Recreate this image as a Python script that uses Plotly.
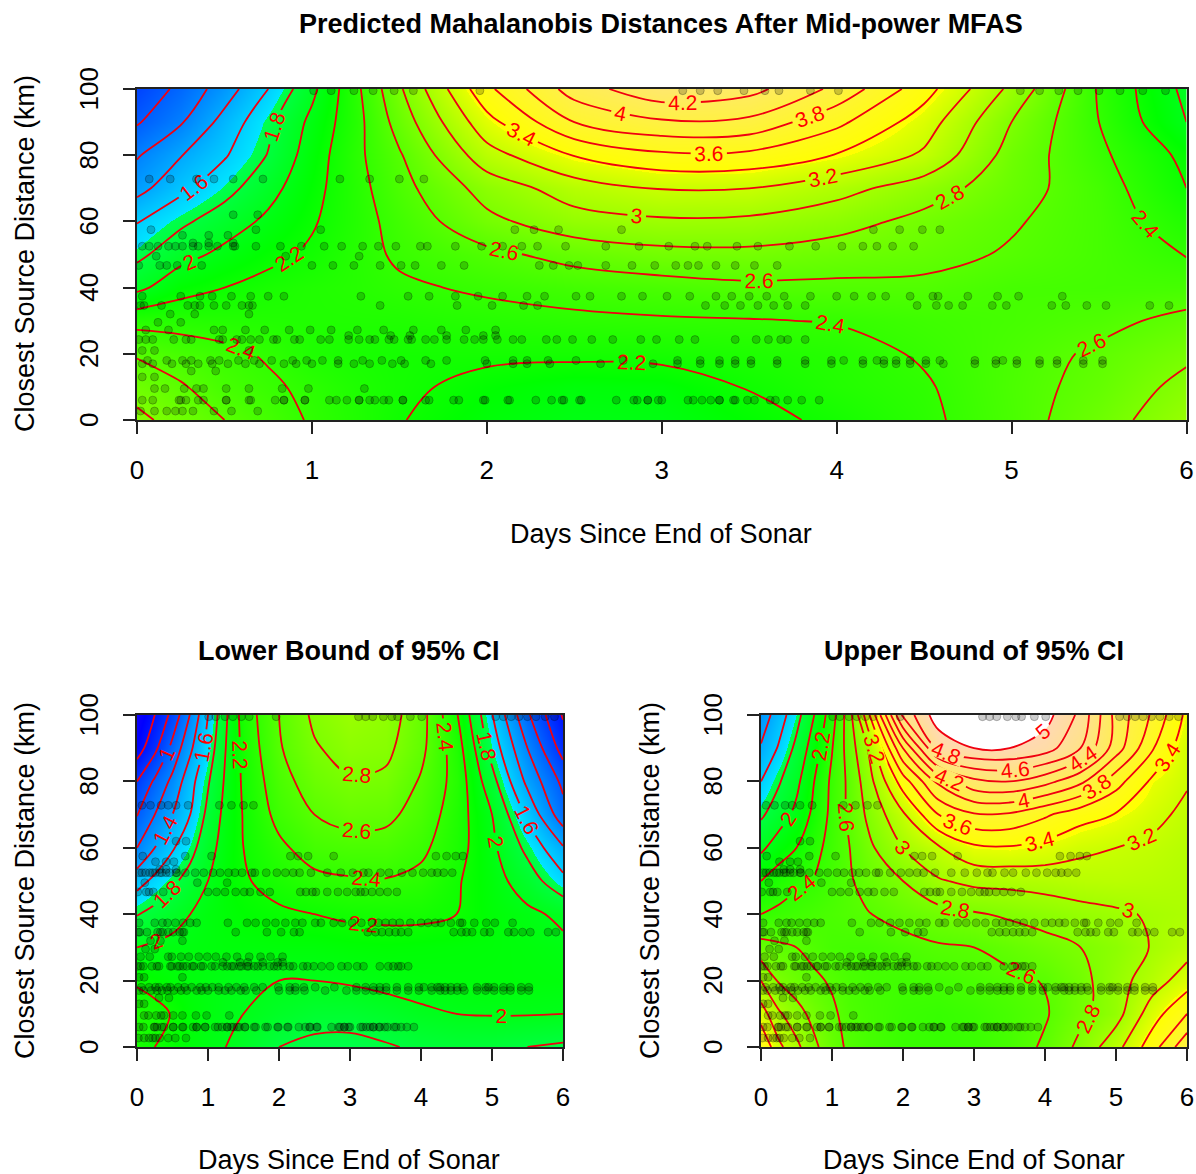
import plotly.graph_objects as go

W, H = 1196, 1174
days = [0, .25, .5, .75, 1, 1.25, 1.5, 2, 2.5, 3, 3.5, 4, 4.5, 5, 5.5, 6]
km = [0, 10, 20, 30, 40, 50, 60, 70, 80, 90, 100]

z_pred = [
 [2.85,2.72,2.60,2.49,2.38,2.30,2.21,2.09,2.03,2.04,2.14,2.24,2.36,2.52,2.71,2.94],
 [2.72,2.62,2.50,2.43,2.36,2.29,2.24,2.14,2.08,2.10,2.21,2.31,2.38,2.53,2.66,2.86],
 [2.58,2.50,2.44,2.38,2.29,2.26,2.24,2.24,2.24,2.25,2.29,2.33,2.42,2.52,2.63,2.76],
 [2.33,2.33,2.32,2.31,2.30,2.30,2.30,2.33,2.36,2.38,2.39,2.41,2.46,2.50,2.55,2.65],
 [1.95,2.13,2.20,2.26,2.30,2.33,2.37,2.43,2.48,2.52,2.56,2.56,2.56,2.50,2.49,2.50],
 [1.75,1.93,2.05,2.15,2.23,2.33,2.43,2.55,2.67,2.74,2.75,2.70,2.66,2.58,2.50,2.39],
 [1.59,1.76,1.90,2.04,2.18,2.32,2.47,2.75,2.92,2.97,2.96,2.88,2.74,2.62,2.50,2.30],
 [1.33,1.55,1.73,1.93,2.14,2.33,2.53,2.88,3.10,3.21,3.20,3.07,2.90,2.68,2.49,2.20],
 [1.18,1.39,1.58,1.81,2.10,2.35,2.58,3.12,3.41,3.56,3.55,3.39,3.17,2.72,2.44,2.15],
 [0.98,1.18,1.47,1.75,2.05,2.33,2.68,3.33,3.80,3.97,3.95,3.65,3.30,2.80,2.40,2.00],
 [0.85,1.05,1.30,1.60,1.95,2.35,2.77,3.55,4.10,4.35,4.27,3.95,3.48,2.95,2.38,1.95],
]
z_low = [
 [2.25,2.20,2.15,2.08,2.03,2.00,1.93,1.80,1.75,1.74,1.78,1.83,1.85,1.84,1.80,1.77],
 [2.28,2.25,2.19,2.11,2.06,2.02,2.00,1.93,1.88,1.88,1.92,1.97,2.00,2.01,2.01,2.00],
 [2.18,2.14,2.10,2.07,2.05,2.03,2.01,2.00,2.00,2.02,2.05,2.07,2.08,2.08,2.08,2.07],
 [2.00,2.03,2.05,2.06,2.07,2.08,2.08,2.09,2.09,2.11,2.12,2.11,2.10,2.09,2.07,2.04],
 [1.79,1.86,1.93,2.00,2.06,2.10,2.13,2.17,2.20,2.23,2.24,2.24,2.20,2.10,2.04,1.96],
 [1.52,1.65,1.76,1.88,2.00,2.11,2.18,2.27,2.35,2.38,2.39,2.35,2.22,2.08,1.90,1.66],
 [1.20,1.40,1.58,1.73,1.93,2.08,2.20,2.36,2.49,2.52,2.52,2.44,2.28,2.04,1.75,1.42],
 [0.99,1.20,1.40,1.60,1.85,2.06,2.21,2.46,2.60,2.67,2.65,2.52,2.30,2.00,1.56,1.08],
 [0.80,1.03,1.25,1.53,1.78,2.03,2.23,2.52,2.70,2.78,2.76,2.58,2.33,1.87,1.35,0.95],
 [0.50,0.75,1.06,1.36,1.68,2.00,2.25,2.58,2.78,2.88,2.85,2.65,2.30,1.72,1.20,0.72],
 [0.40,0.60,0.86,1.21,1.60,1.97,2.28,2.60,2.84,2.95,2.90,2.68,2.22,1.61,1.03,0.58],
]
z_up = [
 [3.60,3.25,3.05,2.84,2.68,2.56,2.50,2.43,2.41,2.43,2.50,2.63,2.85,3.13,3.50,3.95],
 [3.30,3.03,2.87,2.74,2.63,2.54,2.50,2.44,2.42,2.45,2.51,2.58,2.75,2.92,3.30,3.60],
 [3.00,2.78,2.70,2.63,2.58,2.52,2.49,2.47,2.48,2.52,2.56,2.61,2.74,2.92,3.10,3.30],
 [2.67,2.63,2.60,2.55,2.50,2.49,2.49,2.53,2.58,2.60,2.66,2.73,2.80,2.88,3.01,3.12],
 [2.40,2.44,2.47,2.50,2.53,2.56,2.59,2.67,2.73,2.78,2.83,2.88,2.93,2.97,3.02,3.05],
 [2.20,2.30,2.37,2.41,2.49,2.58,2.67,2.80,2.98,3.05,3.06,3.08,3.11,3.12,3.10,3.07],
 [1.96,2.10,2.20,2.34,2.47,2.60,2.75,3.00,3.18,3.36,3.38,3.33,3.24,3.20,3.16,3.10],
 [1.77,1.90,2.05,2.25,2.45,2.64,2.83,3.17,3.60,3.78,3.77,3.63,3.48,3.39,3.26,3.15],
 [1.60,1.78,1.95,2.20,2.44,2.65,2.90,3.50,4.05,4.35,4.40,4.27,4.05,3.68,3.37,3.22],
 [1.42,1.62,1.85,2.10,2.39,2.70,3.00,4.00,4.85,5.00,5.00,4.90,4.60,4.10,3.63,3.25],
 [1.28,1.50,1.73,2.00,2.31,2.73,3.32,4.65,5.12,5.30,5.28,5.08,4.75,4.13,3.78,3.35],
]

# Observations: one list of days per distance row
obs_rows = [
 (99.5, [1.01,1.11,1.24,1.35,1.47,1.58,1.96,3.12,3.22,3.32,3.47,3.59,3.67,3.85,4.01,5.05,5.16,5.27,5.38,5.50,5.62,5.75,5.88]),
 (72.8, [.07,.19,.34,.44,.55,.72,1.16,1.33,1.50,1.64]),
 (62, [.55,.69]),
 (57.5, [.08,.68,1.05,2.16,2.27,2.41,2.77,4.21,4.36,4.49,4.59]),
 (55.8, [.26,.41,.52]),
 (53.5, [.32,.41,.55]),
 (52.5, [.03,.07,.12,.18,.22,.26,.32,.35,.41,.46,.55,.56,.68,.82,.94,1.07,1.17,1.29,1.38,1.48,1.62,1.66,1.82,1.97,2.09,2.20,2.29,2.45,2.68,2.87,3.04,3.19,3.26,3.43,3.55,3.73,3.88,4.03,4.15,4.23,4.32,4.44]),
 (49.5, [.11,.85,1.27]),
 (46.7, [.01,.13,.17,.23,.37,1.0,1.12,1.24,1.39,1.51,1.59,1.74,1.87,2.30,2.38,2.47,2.52,2.68,2.83,2.96,3.08,3.15,3.21,3.31,3.42,3.53,3.66]),
 (37.4, [.03,.25,.36,.43,.54,.65,.75,.84,1.28,1.55,1.67,1.82,1.95,2.09,2.23,2.33,2.51,2.59,2.77,2.89,3.03,3.16,3.31,3.40,3.50,3.60,3.70,3.85,4.0,4.10,4.20,4.28,4.42,4.55,4.58,4.75,4.92,5.04,5.29]),
 (34.6, [.02,.04,.14,.29,.33,.36,.44,.51,.60,.64,.66,1.39,1.83,2.03,2.21,2.29,3.25,3.36,3.45,3.55,3.64,3.72,3.82,4.46,4.57,4.64,4.72,4.89,4.97,5.23,5.31,5.43,5.54,5.79,5.90]),
 (32, [.19,.33,.64]),
 (29.5, [.12,.25]),
 (27.2, [.05,.18,.44,.49,.62,.73,.87,.99,1.11,1.26,1.41,1.58,1.74,1.88,2.05]),
 (25.5, [1.21,1.45,1.56,1.77,1.98,2.05]),
 (24.3, [.01,.05,.09,.21,.28,.31,.47,.49,.57,.60,.65,.70,.78,.80,.90,.93,1.05,1.10,1.21,1.27,1.33,1.36,1.44,1.47,1.55,1.57,1.65,1.70,1.77,1.87,1.93,1.98,2.06,2.15,2.20,2.34,2.40,2.49,2.60,2.72,2.88,2.97,3.10,3.19,3.42,3.54,3.61,3.68,3.72,3.82]),
 (21, [.03,.10,.64]),
 (18, [.06,.17,.26,.31,.42,.47,.58,.67,.77,.89,.97,1.06,1.15,1.29,1.40,1.51,1.65,1.77,1.99,2.15,2.23,2.35,2.51,2.78,3.09,3.22,3.33,3.42,3.51,3.66,3.82,3.97,4.04,4.15,4.23,4.27,4.34,4.42,4.51,4.59,4.79,4.91,4.95,5.03,5.16,5.26,5.41,5.52]),
 (17, [.03,.09,.20,.28,.35,.43,.52,.62,.70,.84,.91,1.00,1.15,1.24,1.33,1.46,1.53,1.68,2.00,2.15,2.23,2.36,2.65,2.95,3.09,3.22,3.33,3.42,3.51,3.66,3.82,3.97,4.15,4.27,4.34,4.42,4.51,4.61,4.79,4.91,5.03,5.16,5.26,5.41,5.52]),
 (14.8, [.31,.45]),
 (13, [.03,.10]),
 (9.5, [.10,.16,.27,.34,.38,.51,.64,.83,.98,1.30]),
 (6, [.03,.09,.24,.25,.28,.35,.38,.51,.51,.64,.65,.79,.84,.84,.96,.96,1.10,1.14,1.20,1.27,1.27,1.33,1.36,1.41,1.44,1.52,1.52,1.65,1.67,1.81,1.84,1.98,1.99,2.12,2.13,2.28,2.37,2.43,2.44,2.53,2.54,2.74,2.84,2.86,2.92,2.92,2.98,3.0,3.15,3.18,3.23,3.28,3.33,3.33,3.41,3.42,3.49,3.53,3.62,3.65,3.72,3.80,3.90]),
 (2.7, [.02,.10,.17,.22,.26,.32,.44,.54,.69]),
]

titles = ["Predicted Mahalanobis Distances After Mid-power MFAS", "Lower Bound of 95% CI", "Upper Bound of 95% CI"]
x_title = "Days Since End of Sonar"
y_title = "Closest Source Distance (km)"
x_ticks = [0, 1, 2, 3, 4, 5, 6]
y_ticks = [0, 20, 40, 60, 80, 100]
y_tick_text = ["0\u00a0", "20\u00a0", "40\u00a0", "60\u00a0", "80\u00a0", "100\u00a0"]

FONT = "Liberation Sans"
topo = [[0, "#4C00FF"], [0.0833, "#0000FF"], [0.3333, "#00E5FF"], [0.3334, "#00FF4D"],
        [0.4167, "#00FF00"], [0.6666, "#E6FF00"], [0.6667, "#FFFF00"], [1, "#FFD9B3"]]
ZMIN, ZMAX = 0.08, 5.0

panels = [(z_pred, 137, 1186.5, 420, 89, "", 661, 24, 534, 254, 25),
          (z_low, 137, 563, 1047, 715, "2", 349, 651, 1160, 881, 25),
          (z_up, 761, 1187, 1047, 715, "3", 974, 651, 1160, 881, 650)]

obs_x = [d for _, ds in obs_rows for d in ds]
obs_y = [y for y, ds in obs_rows for _ in ds]

fig = go.Figure()
layout = dict(width=W, height=H, autosize=False, margin=dict(l=0, r=0, t=0, b=0, pad=0),
              template="none", paper_bgcolor="white", plot_bgcolor="white", showlegend=False,
              font=dict(family=FONT, color="black"))
ann = []
for (z, x0, x1, yb, yt, sfx, cx, ty, xly, ylc, ylx), title in zip(panels, titles):
    xa, ya = "x" + sfx, "y" + sfx
    fig.add_trace(go.Heatmap(x=days, y=km, z=z, zmin=ZMIN, zmax=ZMAX, colorscale=topo,
                             zsmooth="best", showscale=False, xaxis=xa, yaxis=ya, hoverinfo="skip"))
    if z is z_up:
        fig.add_trace(go.Contour(x=days, y=km, z=z, contours=dict(type="constraint", operation="<", value=5.0),
                                 fillcolor="white", line=dict(width=0, color="white", smoothing=1),
                                 showscale=False, xaxis=xa, yaxis=ya, hoverinfo="skip"))
    fig.add_trace(go.Contour(x=days, y=km, z=z, autocontour=False,
                             contours=dict(start=0.2, end=5.0, size=0.2, coloring="none", showlabels=True,
                                           labelfont=dict(family=FONT, size=21, color="#FF0000")),
                             line=dict(color="#F00010", width=1.8, smoothing=1),
                             showscale=False, xaxis=xa, yaxis=ya, hoverinfo="skip"))
    fig.add_trace(go.Scatter(x=obs_x, y=obs_y, mode="markers", xaxis=xa, yaxis=ya, hoverinfo="skip",
                             marker=dict(size=8, color="rgba(0,0,0,0.2)",
                                         line=dict(color="rgba(0,0,0,0.25)", width=1))))
    common = dict(showline=True, mirror=True, linecolor="#222222", linewidth=1.5, ticks="outside",
                  ticklen=12, tickwidth=1.5, tickcolor="#222222", showgrid=False, zeroline=False,
                  automargin=False, tickfont=dict(family=FONT, size=26, color="black"))
    layout["xaxis" + sfx] = dict(common, domain=[x0 / W, x1 / W], range=[0, 6], tickmode="array",
                                 tickvals=x_ticks, anchor=ya, ticklabelstandoff=14)
    layout["yaxis" + sfx] = dict(common, domain=[1 - yb / H, 1 - yt / H], range=[0, 100], tickmode="array",
                                 tickvals=y_ticks, ticktext=y_tick_text, anchor=xa, tickangle=-90,
                                 ticklabelstandoff=15)
    base = dict(xref="paper", yref="paper", showarrow=False, xanchor="center", yanchor="middle")
    ann.append(dict(base, x=cx / W, y=1 - ty / H, text="<b>" + title + "</b>", font=dict(family=FONT, size=27)))
    ann.append(dict(base, x=cx / W, y=1 - xly / H, text=x_title, font=dict(family=FONT, size=27)))
    ann.append(dict(base, x=ylx / W, y=1 - ylc / H, text=y_title, textangle=-90, font=dict(family=FONT, size=27)))

fig.update_layout(annotations=ann, **layout)
fig.write_html("out.html", config=dict(displayModeBar=False),
               post_script="document.body.style.margin='0';document.documentElement.style.overflow='hidden';")
